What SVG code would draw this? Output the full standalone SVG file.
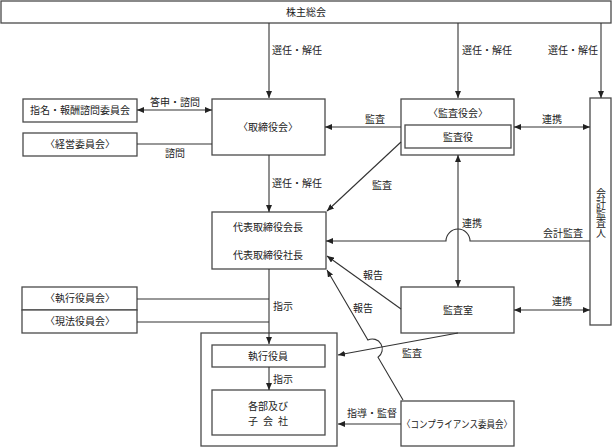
<svg xmlns="http://www.w3.org/2000/svg" width="613" height="447" viewBox="0 0 613 447">
<style>
.box{fill:#fff;stroke:#4a4a4a;stroke-width:1.3}
.ln{fill:none;stroke:#333;stroke-width:1.1}
text{font-family:"Noto Sans CJK JP","Noto Sans",sans-serif;font-size:10px;fill:#222}
.c{text-anchor:middle}
</style>
<defs>
<marker id="ah" viewBox="0 0 7 6" refX="7" refY="3" markerWidth="7" markerHeight="6" markerUnits="userSpaceOnUse" orient="auto-start-reverse">
<path d="M0,0 L7,3 L0,6 z" fill="#222"/>
</marker>
</defs>
<rect width="613" height="447" fill="#fff"/>

<g id="shareholders">
<rect class="box" x="1" y="1" width="610" height="22"/>
<text class="c" x="306" y="16">株主総会</text>
</g>

<g id="nomination">
<rect class="box" x="23" y="99" width="114" height="23"/>
<text class="c" x="80" y="114">指名・報酬諮問委員会</text>
</g>
<g id="management">
<rect class="box" x="23" y="133" width="114" height="23"/>
<text class="c" x="80" y="148">〈経営委員会〉</text>
</g>
<g id="board">
<rect class="box" x="212" y="99" width="113" height="56"/>
<text class="c" x="268" y="131">〈取締役会〉</text>
</g>
<g id="auditboard">
<rect class="box" x="401" y="99" width="113" height="56"/>
<text class="c" x="458" y="117">〈監査役会〉</text>
<rect class="box" x="405" y="125" width="106" height="23"/>
<text class="c" x="458" y="141">監査役</text>
</g>
<g id="accountant">
<rect class="box" x="590" y="98" width="21" height="227"/>
<text x="601" y="188" style="writing-mode:vertical-rl" font-size="9px">会計監査人</text>
</g>
<g id="representative">
<rect class="box" x="212" y="212" width="114" height="57"/>
<text class="c" x="268" y="231">代表取締役会長</text>
<text class="c" x="268" y="259">代表取締役社長</text>
</g>
<g id="auditoffice">
<rect class="box" x="401" y="287" width="113" height="46"/>
<text class="c" x="458" y="314">監査室</text>
</g>
<g id="execcommittee">
<rect class="box" x="22" y="287" width="115" height="23"/>
<text class="c" x="80" y="302">〈執行役員会〉</text>
</g>
<g id="localcommittee">
<rect class="box" x="22" y="310" width="115" height="23"/>
<text class="c" x="80" y="325">〈現法役員会〉</text>
</g>
<g id="group">
<rect class="box" x="201" y="333" width="136" height="113"/>
</g>
<g id="officers">
<rect class="box" x="212" y="345" width="113" height="22"/>
<text class="c" x="268" y="360">執行役員</text>
</g>
<g id="departments">
<rect class="box" x="212" y="390" width="113" height="45"/>
<text class="c" x="268" y="410" font-size="9.5px" textLength="40" lengthAdjust="spacing">各部及び</text>
<text class="c" x="268" y="425" font-size="9.5px" textLength="40" lengthAdjust="spacing">子 会 社</text>
</g>
<g id="compliance">
<rect class="box" x="401" y="401" width="113" height="45"/>
<text class="c" x="457" y="428" textLength="110" lengthAdjust="spacingAndGlyphs">〈コンプライアンス委員会〉</text>
</g>

<g id="connectors">
<path class="ln" d="M269,23 V98" marker-end="url(#ah)"/>
<path class="ln" d="M458,23 V98" marker-end="url(#ah)"/>
<path class="ln" d="M601,23 V98" marker-end="url(#ah)"/>
<path class="ln" d="M137,110 H212" marker-start="url(#ah)" marker-end="url(#ah)"/>
<path class="ln" d="M137,144 H212"/>
<path class="ln" d="M269,155 V212" marker-end="url(#ah)"/>
<path class="ln" d="M401,127 H325" marker-end="url(#ah)"/>
<path class="ln" d="M514,127 H590" marker-start="url(#ah)" marker-end="url(#ah)"/>
<path class="ln" d="M401,142 L327,211" marker-end="url(#ah)"/>
<path class="ln" d="M458,155 V287" marker-start="url(#ah)" marker-end="url(#ah)"/>
<path class="ln" d="M590,241 H470 A12,12 0 0 0 446,241 H326" marker-end="url(#ah)"/>
<path class="ln" d="M514,310 H590" marker-start="url(#ah)" marker-end="url(#ah)"/>
<path class="ln" d="M401,309 L327,256" marker-end="url(#ah)"/>
<path class="ln" d="M403,400 L378,357.2 A10,10 0 0 0 367.9,340 L327,270" marker-end="url(#ah)"/>
<path class="ln" d="M458,333 L338,355" marker-end="url(#ah)"/>
<path class="ln" d="M269,269 V344" marker-end="url(#ah)"/>
<path class="ln" d="M137,299 H269 M137,322 H269"/>
<path class="ln" d="M269,367 V390" marker-end="url(#ah)"/>
<path class="ln" d="M401,424 H338" marker-end="url(#ah)"/>
</g>

<g id="labels">
<text x="272" y="54">選任・解任</text>
<text x="462" y="54">選任・解任</text>
<text x="548" y="54">選任・解任</text>
<text x="150" y="106">答申・諮問</text>
<text x="165" y="157">諮問</text>
<text x="272" y="187">選任・解任</text>
<text x="365" y="123">監査</text>
<text x="542" y="123">連携</text>
<text x="372" y="189">監査</text>
<text x="462" y="227">連携</text>
<text x="543" y="237">会計監査</text>
<text x="363" y="279">報告</text>
<text x="353" y="312">報告</text>
<text x="552" y="305">連携</text>
<text x="273" y="310">指示</text>
<text x="402" y="357">監査</text>
<text x="273" y="383">指示</text>
<text x="347" y="417">指導・監督</text>
</g>
</svg>
